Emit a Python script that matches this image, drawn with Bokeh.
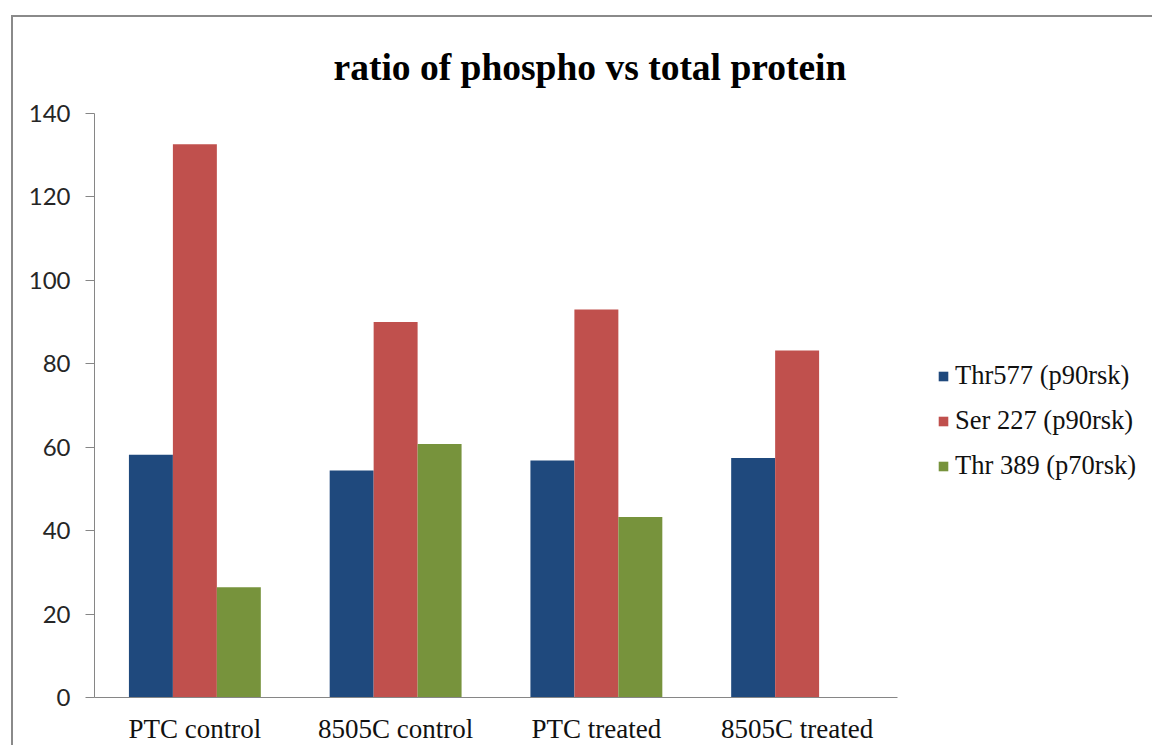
import numpy as np
from bokeh.plotting import figure
from bokeh.models import ColumnDataSource, Range1d, Legend, LegendItem, FixedTicker
from bokeh.transform import dodge
from bokeh.embed import file_html
from bokeh.resources import INLINE

categories = ["PTC control", "8505C control", "PTC treated", "8505C treated"]
series_names = ["Thr577 (p90rsk)", "Ser 227 (p90rsk)", "Thr 389 (p70rsk)"]
thr577 = [58.2, 54.4, 56.8, 57.4]
ser227 = [132.6, 90.0, 93.0, 83.2]
thr389 = [26.4, 60.8, 43.3, np.nan]
colors = ["#1F497D", "#C0504D", "#77933C"]
title_text = "ratio of phospho vs total protein"
y_ticks = [0, 20, 40, 60, 80, 100, 120, 140]

n = len(categories)
xpos = [i + 0.5 for i in range(n)]
source = ColumnDataSource(dict(x=xpos, cat=categories, s0=thr577, s1=ser227, s2=thr389))

W, H = 1141, 730
left_b, right_b, top_b, bottom_b = 81, 5, 96, 50
axis_px = 803  # pixel length of the category axis
frame_w = W - left_b - right_b

p = figure(
    width=W, height=H,
    x_range=Range1d(0, n * frame_w / axis_px),
    y_range=Range1d(0, 140),
    output_backend="svg", toolbar_location=None, tools="",
    min_border_left=left_b, min_border_right=right_b,
    min_border_top=top_b, min_border_bottom=bottom_b,
)
p.outline_line_color = None
p.xgrid.visible = False
p.ygrid.visible = False

bw = 0.219
renderers = []
for i, (key, c) in enumerate(zip(["s0", "s1", "s2"], colors)):
    r = p.vbar(x=dodge("x", (i - 1) * bw), top=key, width=bw,
               source=source, fill_color=c, line_color=None)
    renderers.append(r)

# title
p.title.text = title_text
p.title.text_font = "Liberation Serif"
p.title.text_font_style = "bold"
p.title.text_font_size = "37.5px"
p.title.align = "left"
p.title.offset = 239
p.title.standoff = 52
p.title.text_color = "#000000"

# y axis
ya = p.yaxis[0]
ya.ticker = y_ticks
ya.axis_line_color = "#868686"
ya.major_tick_line_color = "#868686"
ya.major_tick_out = 9
ya.major_tick_in = 0
ya.minor_tick_line_color = None
ya.major_label_text_font = "Lato"
ya.major_label_text_font_size = "24px"
ya.major_label_text_color = "#262626"
ya.major_label_standoff = 15

# x axis (categorical labels at category centres)
xa = p.xaxis[0]
xa.ticker = FixedTicker(ticks=xpos)
xa.major_label_overrides = {x: c for x, c in zip(xpos, categories)}
xa.bounds = (0, n)
xa.axis_line_color = "#868686"
xa.major_tick_line_color = None
xa.major_tick_out = 0
xa.minor_tick_line_color = None
xa.major_label_text_font = "Liberation Serif"
xa.major_label_text_font_size = "27px"
xa.major_label_text_color = "#111111"
xa.major_label_standoff = 16

legend = Legend(
    items=[LegendItem(label=s, renderers=[r]) for s, r in zip(series_names, renderers)],
    location=(843, 216),
    label_text_font="Liberation Serif",
    label_text_font_size="26.5px",
    label_text_color="#111111",
    glyph_width=12, glyph_height=12,
    label_standoff=6, spacing=14, padding=0, margin=0,
    border_line_color=None, background_fill_alpha=0,
)
p.add_layout(legend, "center")

p.margin = (15, 0, 0, 11)
p.styles = {"border-top": "2px solid #8a8a8a", "border-left": "2px solid #8a8a8a"}

open("out.html", "w").write(file_html(p, INLINE))
